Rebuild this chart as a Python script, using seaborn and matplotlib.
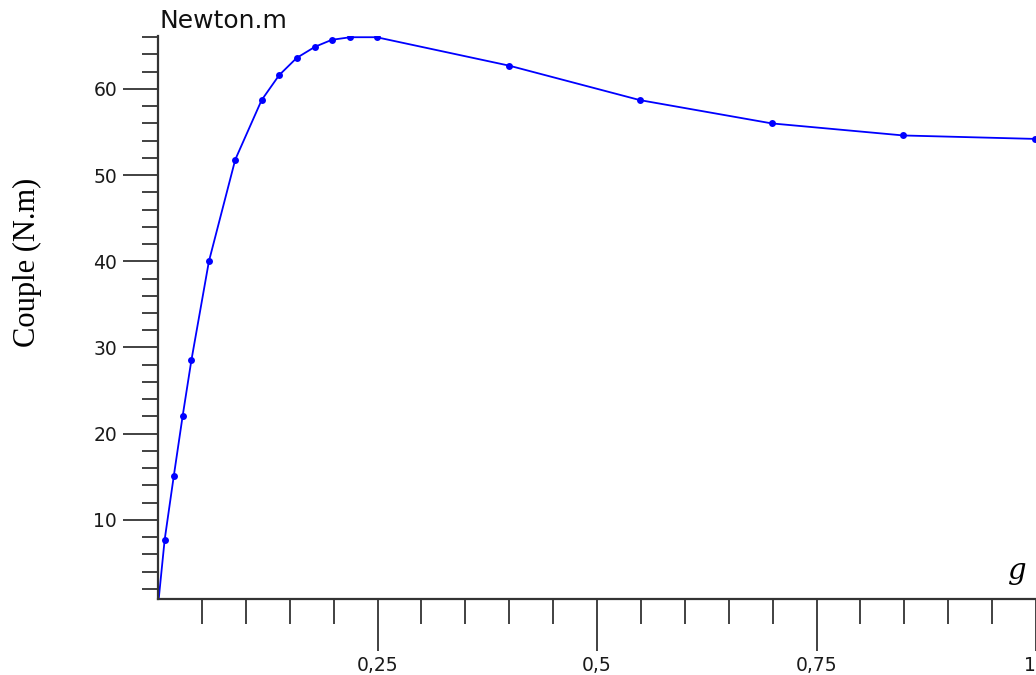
import matplotlib
matplotlib.use("Agg")
import matplotlib.pyplot as plt
import seaborn as sns
import pandas as pd
from matplotlib.ticker import FixedLocator, FixedFormatter, NullFormatter

# ---- data ----
g_values = [0.0, 0.0076, 0.018, 0.028, 0.038, 0.058, 0.088, 0.118, 0.138, 0.158,
            0.179, 0.198, 0.219, 0.249, 0.400, 0.549, 0.699, 0.849, 0.999]
couple_values = [0.0, 7.7, 15.1, 22.0, 28.5, 40.0, 51.8, 58.7, 61.6, 63.6,
                 64.9, 65.7, 66.0, 66.0, 62.7, 58.7, 56.0, 54.6, 54.2]

x_major_ticks = [0.25, 0.5, 0.75, 1.0]
x_major_labels = ["0,25", "0,5", "0,75", "1"]
x_minor_ticks = [0.05, 0.10, 0.15, 0.20, 0.30, 0.35, 0.40, 0.45, 0.55, 0.60,
                 0.65, 0.70, 0.80, 0.85, 0.90, 0.95]
y_major_ticks = [10, 20, 30, 40, 50, 60]
y_major_labels = ["10", "20", "30", "40", "50", "60"]
y_minor_ticks = [2, 4, 6, 8, 12, 14, 16, 18, 22, 24, 26, 28, 32, 34, 36, 38,
                 42, 44, 46, 48, 52, 54, 56, 58, 62, 64, 66]

y_title = "Couple (N.m)"
unit_title = "Newton.m"
x_title = "g"

df = pd.DataFrame({"g": g_values, "couple": couple_values})

sns.set_style("white")
plt.rcParams["font.family"] = ["DejaVu Sans"]

W, H = 1036, 675
fig = plt.figure(figsize=(W / 100, H / 100), dpi=100)
ax = fig.add_axes([158 / W, 1 - 598.5 / H, (W - 158) / W, (598.5 - 35.5) / H])

sns.lineplot(data=df, x="g", y="couple", ax=ax, color="#0000ff", linewidth=1.3,
             marker="o", markersize=5, markeredgewidth=0, sort=False)

ax.set_xlim(0, 1.0)
ax.set_ylim(0.87, 66.2)

for s in ["top", "right"]:
    ax.spines[s].set_visible(False)
for s in ["left", "bottom"]:
    ax.spines[s].set_color("#333333")
    ax.spines[s].set_linewidth(1.6)

ax.xaxis.set_major_locator(FixedLocator(x_major_ticks))
ax.xaxis.set_major_formatter(FixedFormatter(x_major_labels))
ax.xaxis.set_minor_locator(FixedLocator(x_minor_ticks))
ax.xaxis.set_minor_formatter(NullFormatter())
ax.yaxis.set_major_locator(FixedLocator(y_major_ticks))
ax.yaxis.set_major_formatter(FixedFormatter(y_major_labels))
ax.yaxis.set_minor_locator(FixedLocator(y_minor_ticks))
ax.yaxis.set_minor_formatter(NullFormatter())

ax.tick_params(axis="x", which="major", direction="out", length=37.4, width=1.3,
               color="#333333", pad=4, labelsize=13.5, labelcolor="#1a1a1a", bottom=True)
ax.tick_params(axis="x", which="minor", direction="out", length=18, width=1.3,
               color="#333333", bottom=True)
ax.tick_params(axis="y", which="major", direction="out", length=25.2, width=1.3,
               color="#333333", pad=4.3, labelsize=13.5, labelcolor="#1a1a1a", left=True)
ax.tick_params(axis="y", which="minor", direction="out", length=11.5, width=1.3,
               color="#333333", left=True)

# keep the last x label ("1") inside the figure edge
last_tick = ax.xaxis.get_major_ticks()[-1]
last_tick.label1.set_horizontalalignment("right")

ax.set_xlabel("")
ax.set_ylabel("")
ax.grid(False)

fig.text(27 / W, 1 - 262 / H, y_title, rotation=90, ha="center", va="center",
         fontsize=22, family=["Liberation Serif", "DejaVu Serif"], color="black")
fig.text(160 / W, 1 - 9 / H, unit_title, ha="left", va="top", fontsize=18,
         color="#111111")
fig.text(1017 / W, 1 - 571 / H, x_title, ha="center", va="center", fontsize=21,
         style="italic", family=["DejaVu Serif"], color="black")

fig.savefig("out.png", dpi=100, facecolor="white")
